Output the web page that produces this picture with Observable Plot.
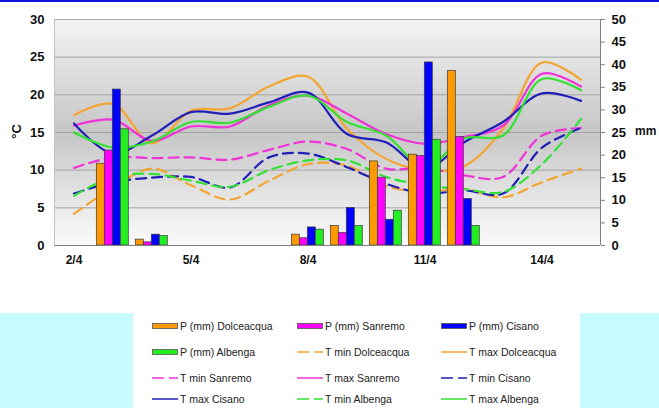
<!DOCTYPE html>
<html><head><meta charset="utf-8">
<script src="https://cdn.jsdelivr.net/npm/d3@7"></script>
<script src="https://cdn.jsdelivr.net/npm/@observablehq/plot@0.6"></script>
<style>
body{margin:0;background:#fff;font-family:"Liberation Sans",Arial,sans-serif;}
#wrap{position:relative;width:659px;height:408px;overflow:hidden;background:#fff;}
#chart{position:absolute;left:0;top:0;}
#topline{position:absolute;left:0;top:0;width:659px;height:2px;background:#1414e0;}
.cyan{position:absolute;top:313px;height:95px;background:#c8fbff;}
.ax{position:absolute;font-weight:bold;font-size:13px;color:#111;}
.item{position:absolute;font-size:10.5px;color:#222;height:14px;line-height:14px;white-space:nowrap;}
.item svg{position:absolute;left:0;top:0;}
.item span{position:absolute;left:28px;top:0;}
</style></head>
<body>
<div id="wrap">
  <div class="cyan" style="left:0;width:133px"></div>
  <div class="cyan" style="left:580px;width:79px"></div>
  <div id="chart"></div>
  <div id="topline"></div>
  <div class="ax" style="left:6px;top:124px;transform:rotate(-90deg);transform-origin:center;width:20px;text-align:center">°C</div>
  <div class="ax" style="left:635px;top:124px;font-size:12px">mm</div>
  <div id="legend"></div>
</div>
<script>
// ---- data ----
const dates = ["2/4","3/4","4/4","5/4","6/4","7/4","8/4","9/4","10/4","11/4","12/4","13/4","14/4","15/4"];
const xTickIdx = [0, 3, 6, 9, 12];
const tempTicks = [0, 5, 10, 15, 20, 25, 30];
const mmTicks = [0, 5, 10, 15, 20, 25, 30, 35, 40, 45, 50];
const stations = ["Dolceacqua", "Sanremo", "Cisano", "Albenga"];

// precipitation (mm)
const precDolceacqua = [null, 18.1, 1.3, null, null, null, 2.4, 4.3, 18.6, 20.1, 38.6, 0, null, null];
const precSanremo    = [null, 21.0, 0.7, null, null, null, 1.6, 2.8, 15.0, 19.8, 24.0, null, null, null];
const precCisano     = [null, 34.5, 2.4, null, null, null, 4.0, 8.3, 5.7, 40.5, 10.3, 0, null, 0];
const precAlbenga    = [null, 25.7, 2.1, null, null, null, 3.5, 4.3, 7.7, 23.4, 4.3, null, null, 0];

// temperatures (°C)
const tminDolceacqua = [4.2, 7.7, 10.2, 8.0, 6.1, 8.6, 10.8, 10.6, 7.9, 7.1, 7.5, 6.4, 8.4, 10.2];
const tmaxDolceacqua = [17.3, 18.8, 13.6, 17.9, 18.2, 21.1, 22.4, 15.5, 11.5, 10.0, 10.5, 15.5, 24.3, 22.0];
const tminSanremo    = [10.3, 11.7, 11.6, 11.7, 11.4, 12.7, 13.8, 12.8, 10.2, 10.3, 9.3, 9.1, 14.6, 15.6];
const tmaxSanremo    = [15.9, 16.7, 13.9, 15.8, 15.8, 18.6, 19.9, 17.5, 14.8, 13.5, 14.4, 15.9, 22.8, 21.1];
const tminCisano     = [6.9, 8.4, 9.0, 9.1, 7.7, 11.7, 12.2, 10.4, 8.2, 6.9, 7.3, 6.9, 13.0, 15.6];
const tmaxCisano     = [16.2, 12.2, 14.6, 17.7, 17.5, 19.0, 20.3, 14.8, 13.7, 10.2, 13.7, 16.4, 20.2, 19.2];
const tminAlbenga    = [6.6, 9.1, 9.5, 8.6, 7.8, 10.0, 11.3, 11.3, 9.1, 8.0, 7.5, 7.1, 10.8, 16.8];
const tmaxAlbenga    = [15.0, 13.0, 13.8, 16.4, 16.3, 18.4, 19.9, 16.4, 14.6, 10.4, 14.2, 14.6, 22.1, 20.6];

// ---- styling ----
const barColors  = ["#ff9900", "#ff00ff", "#0000ff", "#22ee22"];
const lineColors = ["#f4a531", "#f032d8", "#1f1fb8", "#33e033"];
const precAll = [precDolceacqua, precSanremo, precCisano, precAlbenga];
const tminAll = [tminDolceacqua, tminSanremo, tminCisano, tminAlbenga];
const tmaxAll = [tmaxDolceacqua, tmaxSanremo, tmaxCisano, tmaxAlbenga];
const mmToC = 30 / 50;
const slot = 0.205, start = -0.415;

const marks = [];
marks.push(Plot.frame({fill: "url(#bggrad)", stroke: null}));
marks.push(Plot.ruleY(tempTicks.filter(t => t > 0), {stroke: "#a4a4a4", strokeWidth: 1}));
marks.push(Plot.ruleX([-0.5], {stroke: "#c4c4c4"}));
// temperature lines
stations.forEach((s, k) => {
  const rowsMin = dates.map((d, i) => ({i, v: tminAll[k][i]}));
  const rowsMax = dates.map((d, i) => ({i, v: tmaxAll[k][i]}));
  marks.push(Plot.line(rowsMin, {x: "i", y: "v", stroke: lineColors[k], strokeWidth: 2.2, strokeDasharray: "10,6", curve: "catmull-rom"}));
  marks.push(Plot.line(rowsMax, {x: "i", y: "v", stroke: lineColors[k], strokeWidth: 2.2, curve: "catmull-rom"}));
});
// precipitation bars
stations.forEach((s, k) => {
  const rows = dates.map((d, i) => ({i, mm: precAll[k][i]})).filter(r => r.mm != null);
  marks.push(Plot.rectY(rows, {
    x1: r => r.i + start + k * slot,
    x2: r => r.i + start + (k + 1) * slot,
    y1: 0, y2: r => r.mm * mmToC,
    fill: barColors[k], stroke: "#3a3a3a", strokeWidth: 0.7
  }));
});
marks.push(Plot.ruleY([0], {stroke: "#808080"}));
marks.push(Plot.ruleX([13.5], {stroke: "#808080"}));
marks.push(Plot.axisX(xTickIdx, {label: null, tickFormat: i => dates[i], tickSize: 0, tickPadding: 10, fontWeight: "bold", fontSize: 12, fill: "#111"}));
marks.push(Plot.axisY(tempTicks, {label: null, anchor: "left", tickSize: 0, tickPadding: 10, fontWeight: "bold", fontSize: 13, fill: "#111"}));
marks.push(Plot.axisY(mmTicks.map(m => m * mmToC), {label: null, anchor: "right", tickFormat: d => Math.round(d / mmToC), tickSize: 4, tickPadding: 7, stroke: "#808080", fontWeight: "bold", fontSize: 13, fill: "#111"}));

const svg = Plot.plot({
  width: 659, height: 300,
  marginTop: 19, marginBottom: 55, marginLeft: 54, marginRight: 59,
  x: {type: "linear", domain: [-0.5, 13.5], axis: null, label: null},
  y: {domain: [0, 30], axis: null, label: null},
  style: {background: "transparent", fontFamily: "'Liberation Sans', Arial, sans-serif"},
  marks
});
const defs = d3.select(svg).insert("defs", ":first-child");
const g = defs.append("linearGradient").attr("id", "bggrad").attr("x1", 0).attr("y1", 0).attr("x2", 0).attr("y2", 1);
g.append("stop").attr("offset", "0%").attr("stop-color", "#f3f3f3");
g.append("stop").attr("offset", "50%").attr("stop-color", "#c6c6c6");
g.append("stop").attr("offset", "100%").attr("stop-color", "#fbfbfb");
document.getElementById("chart").appendChild(svg);

// ---- legend ----
const legendItems = [
  {label: "P (mm) Dolceacqua", k: 0, kind: "bar"},
  {label: "P (mm) Sanremo", k: 1, kind: "bar"},
  {label: "P (mm) Cisano", k: 2, kind: "bar"},
  {label: "P (mm) Albenga", k: 3, kind: "bar"},
  {label: "T min Dolceacqua", k: 0, kind: "dash"},
  {label: "T max Dolceacqua", k: 0, kind: "line"},
  {label: "T min Sanremo", k: 1, kind: "dash"},
  {label: "T max Sanremo", k: 1, kind: "line"},
  {label: "T min Cisano", k: 2, kind: "dash"},
  {label: "T max Cisano", k: 2, kind: "line"},
  {label: "T min Albenga", k: 3, kind: "dash"},
  {label: "T max Albenga", k: 3, kind: "line"}
];
const colX = [152, 297, 441];
const rowY = [319, 345, 371, 392];
const leg = document.getElementById("legend");
legendItems.forEach((it, n) => {
  const div = document.createElement("div");
  div.className = "item";
  div.style.left = colX[n % 3] + "px";
  div.style.top = rowY[Math.floor(n / 3)] + "px";
  let sw;
  if (it.kind === "bar") sw = `<rect x="0.5" y="4.5" width="25" height="5" fill="${barColors[it.k]}" stroke="#555" stroke-width="0.8"/>`;
  else if (it.kind === "dash") sw = `<line x1="0" y1="7" x2="26" y2="7" stroke="${lineColors[it.k]}" stroke-width="1.5" stroke-dasharray="12,5,9"/>`;
  else sw = `<line x1="0" y1="7" x2="26" y2="7" stroke="${lineColors[it.k]}" stroke-width="1.5"/>`;
  div.innerHTML = `<svg width="27" height="14">${sw}</svg><span>${it.label}</span>`;
  leg.appendChild(div);
});
</script>
</body></html>
